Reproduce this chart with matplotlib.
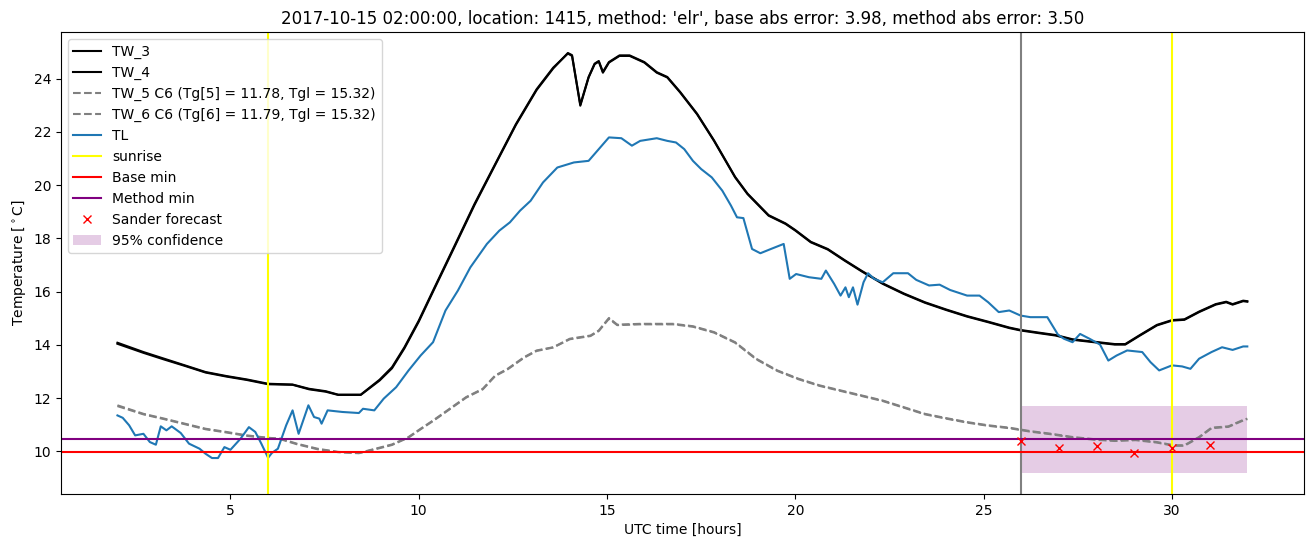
import matplotlib
matplotlib.use("Agg")
import matplotlib.pyplot as plt

# UTC hours for TW_3 / TW_4
tw_time = [2.0, 2.69, 3.24, 3.79, 4.34, 4.89, 5.44, 6.0, 6.65, 7.09, 7.53, 7.86, 8.46, 8.96,
           9.29, 9.62, 10.0, 10.38, 10.93, 11.48, 12.03, 12.58, 13.13, 13.57, 13.96, 14.07,
           14.29, 14.51, 14.67, 14.78, 14.89, 15.05, 15.33, 15.6, 15.99, 16.32, 16.6, 16.94,
           17.39, 17.84, 18.4, 18.73, 19.29, 19.74, 20.0, 20.41, 20.86, 21.31, 21.76, 22.32,
           22.88, 23.44, 24.0, 24.56, 25.12, 25.68, 25.98, 26.46, 26.91, 27.36, 27.92, 28.48,
           28.76, 29.15, 29.6, 30.0, 30.33, 30.72, 31.16, 31.44, 31.61, 31.89, 32.0]
tw_3 = [14.08, 13.73, 13.48, 13.23, 12.98, 12.83, 12.7, 12.54, 12.51, 12.35, 12.26, 12.13, 12.13,
        12.69, 13.16, 13.91, 14.91, 16.04, 17.66, 19.29, 20.79, 22.29, 23.6, 24.41, 24.94, 24.85,
        22.98, 24.04, 24.54, 24.64, 24.22, 24.6, 24.85, 24.85, 24.6, 24.22, 24.04, 23.48,
        22.66, 21.66, 20.29, 19.66, 18.85, 18.54, 18.29, 17.85, 17.58, 17.16, 16.76, 16.29,
        15.91, 15.58, 15.31, 15.06, 14.85, 14.63, 14.54, 14.44, 14.35, 14.19, 14.1, 14.01,
        14.01, 14.35, 14.73, 14.91, 14.94, 15.23, 15.51, 15.6, 15.51, 15.64, 15.62]
tw_4 = [14.04, 13.7, 13.45, 13.21, 12.96, 12.81, 12.68, 12.52, 12.5, 12.33, 12.24, 12.12, 12.12,
        12.66, 13.12, 13.87, 14.87, 16.0, 17.62, 19.25, 20.76, 22.26, 23.57, 24.38, 24.96, 24.88,
        23.02, 24.06, 24.56, 24.66, 24.25, 24.62, 24.87, 24.87, 24.62, 24.24, 24.06, 23.5,
        22.68, 21.68, 20.31, 19.68, 18.87, 18.56, 18.31, 17.87, 17.6, 17.18, 16.78, 16.31,
        15.93, 15.6, 15.33, 15.08, 14.87, 14.65, 14.56, 14.46, 14.37, 14.21, 14.12, 14.03,
        14.03, 14.37, 14.75, 14.93, 14.96, 15.25, 15.53, 15.62, 15.53, 15.66, 15.64]

# UTC hours for TW_5 / TW_6
tg_time = [2.0, 2.69, 3.24, 3.79, 4.34, 4.89, 5.44, 6.0, 6.32, 6.76, 7.31, 7.86, 8.41, 8.85,
           9.29, 9.73, 10.05, 10.38, 10.82, 11.26, 11.7, 12.03, 12.36, 12.8, 13.13, 13.57,
           14.01, 14.56, 14.78, 15.05, 15.27, 15.88, 16.76, 17.28, 17.84, 18.4, 18.96, 19.52,
           20.08, 20.64, 21.2, 21.76, 22.32, 22.88, 23.44, 24.0, 24.56, 25.12, 25.68, 26.24,
           26.8, 27.36, 27.92, 28.48, 29.04, 29.6, 30.05, 30.33, 30.72, 31.05, 31.5, 31.89, 32.0]
tw_5 = [11.73, 11.41, 11.23, 11.04, 10.85, 10.73, 10.6, 10.51, 10.48, 10.29, 10.1, 9.98, 9.94,
        10.1, 10.26, 10.54, 10.85, 11.16, 11.6, 12.04, 12.35, 12.85, 13.1, 13.54, 13.79, 13.91,
        14.23, 14.35, 14.54, 15.01, 14.76, 14.79, 14.79, 14.7, 14.48, 14.1, 13.48, 13.04,
        12.73, 12.48, 12.29, 12.1, 11.91, 11.66, 11.41, 11.25, 11.1, 10.98, 10.89, 10.76,
        10.66, 10.54, 10.46, 10.41, 10.44, 10.35, 10.23, 10.23, 10.54, 10.89, 10.94, 11.18, 11.23]
tw_6 = [11.7, 11.39, 11.21, 11.02, 10.83, 10.71, 10.58, 10.5, 10.46, 10.27, 10.08, 9.97, 9.93,
        10.08, 10.24, 10.52, 10.83, 11.14, 11.58, 12.02, 12.33, 12.83, 13.08, 13.52, 13.77, 13.9,
        14.21, 14.33, 14.52, 14.98, 14.74, 14.77, 14.77, 14.68, 14.46, 14.08, 13.46, 13.02,
        12.71, 12.46, 12.27, 12.08, 11.89, 11.64, 11.39, 11.23, 11.08, 10.96, 10.87, 10.74,
        10.64, 10.52, 10.44, 10.39, 10.42, 10.33, 10.21, 10.21, 10.52, 10.87, 10.92, 11.16, 11.21]

# UTC hours for TL
tl_time = [2.0, 2.14, 2.31, 2.47, 2.69, 2.86, 3.02, 3.15, 3.3, 3.44, 3.68, 3.9, 4.18, 4.34,
           4.51, 4.67, 4.84, 5.0, 5.11, 5.27, 5.49, 5.66, 5.82, 6.0, 6.1, 6.26, 6.48, 6.65,
           6.81, 7.07, 7.22, 7.36, 7.42, 7.58, 7.97, 8.41, 8.52, 8.82, 9.07, 9.4, 9.73, 10.05,
           10.38, 10.71, 11.04, 11.37, 11.81, 12.14, 12.42, 12.69, 12.97, 13.3, 13.68, 14.12,
           14.51, 14.78, 15.05, 15.38, 15.66, 15.88, 16.32, 16.6, 16.83, 17.05, 17.28, 17.5,
           17.78, 18.06, 18.29, 18.45, 18.62, 18.85, 19.07, 19.35, 19.69, 19.85, 20.02, 20.36,
           20.69, 20.81, 21.03, 21.2, 21.33, 21.42, 21.53, 21.65, 21.81, 21.93, 22.09, 22.32,
           22.6, 22.99, 23.21, 23.55, 23.83, 24.11, 24.56, 24.89, 25.12, 25.4, 25.68, 25.98,
           26.24, 26.69, 26.97, 27.13, 27.36, 27.56, 27.81, 28.09, 28.31, 28.53, 28.81, 29.21,
           29.43, 29.66, 30.0, 30.27, 30.49, 30.72, 31.05, 31.33, 31.61, 31.89, 32.0]
tl = [11.35, 11.26, 10.98, 10.6, 10.66, 10.35, 10.25, 10.94, 10.79, 10.94, 10.69, 10.29, 10.1,
      9.91, 9.75, 9.75, 10.16, 10.06, 10.23, 10.48, 10.91, 10.73, 10.29, 9.76, 9.94, 10.1,
      10.98, 11.54, 10.66, 11.73, 11.29, 11.23, 11.04, 11.54, 11.48, 11.44, 11.6, 11.54,
      11.98, 12.41, 13.04, 13.6, 14.1, 15.29, 16.04, 16.91, 17.79, 18.29, 18.6, 19.04, 19.41,
      20.1, 20.66, 20.85, 20.91, 21.35, 21.79, 21.76, 21.48, 21.66, 21.76, 21.66, 21.6,
      21.35, 20.91, 20.6, 20.29, 19.79, 19.23, 18.79, 18.76, 17.6, 17.44, 17.6, 17.79,
      16.48, 16.66, 16.54, 16.48, 16.79, 16.29, 15.85, 16.16, 15.79, 16.16, 15.51, 16.35,
      16.69, 16.48, 16.35, 16.69, 16.69, 16.44, 16.23, 16.26, 16.06, 15.85, 15.85, 15.6,
      15.23, 15.29, 15.1, 15.04, 15.04, 14.39, 14.23, 14.1, 14.41, 14.23, 14.01, 13.41,
      13.6, 13.79, 13.73, 13.35, 13.04, 13.23, 13.19, 13.1, 13.48, 13.73, 13.91, 13.81,
      13.94, 13.94]

sunrise = [6, 30]
forecast_start = 26
base_min = 9.97
method_min = 10.45

sander_time = [26, 27, 28, 29, 30, 31]
sander = [10.39, 10.14, 10.21, 9.94, 10.14, 10.25]

conf_time = [26, 32]
conf_low = [9.19, 9.19]
conf_high = [11.69, 11.69]

title = ("2017-10-15 02:00:00, location: 1415, method: 'elr', "
         "base abs error: 3.98, method abs error: 3.50")

fig = plt.figure(figsize=(13.11, 5.47), dpi=100)
ax = fig.add_axes([0.0465, 0.097, 0.948, 0.8445])

ax.plot(tw_time, tw_3, color="black", label="TW_3")
ax.plot(tw_time, tw_4, color="black", label="TW_4")
ax.plot(tg_time, tw_5, color="gray", linestyle="--",
        label="TW_5 C6 (Tg[5] = 11.78, Tgl = 15.32)")
ax.plot(tg_time, tw_6, color="gray", linestyle="--",
        label="TW_6 C6 (Tg[6] = 11.79, Tgl = 15.32)")
ax.plot(tl_time, tl, color="#1f77b4", label="TL")

for i, s in enumerate(sunrise):
    ax.axvline(s, color="yellow", label="sunrise" if i == 0 else None)
ax.axvline(forecast_start, color="gray")
ax.axhline(base_min, color="red", label="Base min")
ax.axhline(method_min, color="purple", label="Method min")
ax.plot(sander_time, sander, "x", color="red", linestyle="none", label="Sander forecast")
ax.fill_between(conf_time, conf_low, conf_high, color="purple", alpha=0.2,
                linewidth=0, label="95% confidence")

ax.set_title(title)
ax.set_xlabel("UTC time [hours]")
ax.set_ylabel(r"Temperature [$^\circ$C]")
ax.legend(loc="upper left")

fig.savefig("out.png")
